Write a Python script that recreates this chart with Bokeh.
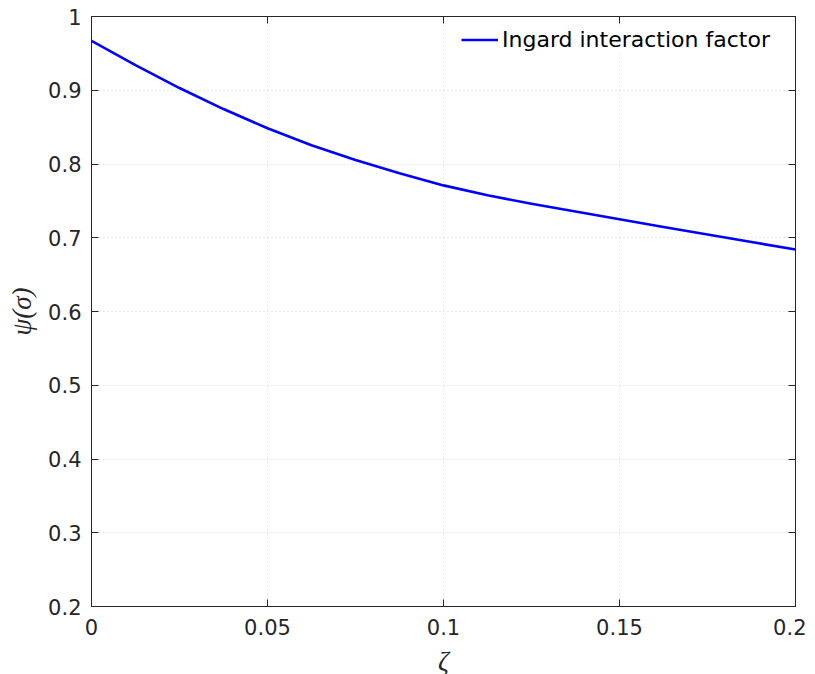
from bokeh.plotting import figure
from bokeh.models import Range1d, LinearAxis, FixedTicker, Legend, LegendItem
from bokeh.embed import file_html
from bokeh.resources import INLINE

# data
zeta = [0.0, 0.0125, 0.025, 0.0375, 0.05, 0.0625, 0.075, 0.0875, 0.1,
        0.1125, 0.125, 0.1375, 0.15, 0.1625, 0.175, 0.1875, 0.2]
psi = [0.967, 0.934, 0.903, 0.8745, 0.8485, 0.8255, 0.8055, 0.7875, 0.771,
       0.7575, 0.746, 0.7355, 0.725, 0.7147, 0.7044, 0.6942, 0.684]
series_name = "Ingard interaction factor"

x_ticks = [0, 0.05, 0.1, 0.15, 0.2]
x_tick_labels = ["0", "0.05", "0.1", "0.15", "0.2"]
y_ticks = [0.2, 0.3, 0.4, 0.5, 0.6, 0.7, 0.8, 0.9, 1.0]
y_tick_labels = ["0.2", "0.3", "0.4", "0.5", "0.6", "0.7", "0.8", "0.9", "1"]

AX = "#262626"
TICK_FONT = "DejaVu Sans"

p = figure(frame_width=704, frame_height=590, output_backend="svg",
           toolbar_location=None, x_range=Range1d(0, 0.2), y_range=Range1d(0.2, 1.0),
           min_border_left=91, min_border_right=11, min_border_top=16, min_border_bottom=66,
           background_fill_color="white", border_fill_color="white")

p.outline_line_color = AX
p.outline_line_width = 1

line = p.line(zeta, psi, line_color="#0000ff", line_width=2.6, line_join="round")

def style_axis(ax, ticks, labels, show_labels=True):
    ax.ticker = FixedTicker(ticks=ticks)
    ax.axis_line_color = AX
    ax.major_tick_line_color = AX
    ax.major_tick_in = 7
    ax.major_tick_out = 0
    ax.minor_tick_line_color = None
    ax.major_label_text_font = TICK_FONT
    ax.major_label_text_color = AX
    if show_labels:
        ax.major_label_overrides = {t: l for t, l in zip(ticks, labels)}
        ax.major_label_text_font_size = "21px"
    else:
        ax.major_label_overrides = {t: "" for t in ticks}
        ax.major_label_text_font_size = "0px"
        ax.major_label_standoff = 0

style_axis(p.xaxis[0], x_ticks, x_tick_labels)
style_axis(p.yaxis[0], y_ticks, y_tick_labels)
p.xaxis[0].major_label_standoff = 12
p.yaxis[0].major_label_standoff = 10

p.xaxis[0].axis_label = "ζ"
p.yaxis[0].axis_label = "ψ(σ)"
for ax in (p.xaxis[0], p.yaxis[0]):
    ax.axis_label_text_font = "Liberation Serif"
    ax.axis_label_text_font_style = "italic"
    ax.axis_label_text_font_size = "27px"
    ax.axis_label_text_color = AX
p.xaxis[0].axis_label_standoff = 8
p.yaxis[0].axis_label_standoff = 8

top = LinearAxis()
right = LinearAxis()
style_axis(top, x_ticks, x_tick_labels, show_labels=False)
style_axis(right, y_ticks, y_tick_labels, show_labels=False)
p.add_layout(top, "above")
p.add_layout(right, "right")

p.xgrid.ticker = FixedTicker(ticks=x_ticks)
p.ygrid.ticker = FixedTicker(ticks=y_ticks)
for g in (p.xgrid, p.ygrid):
    g.grid_line_color = "#d4d4d4"
    g.grid_line_dash = "1 3"
    g.grid_line_width = 1

legend = Legend(items=[LegendItem(label=series_name, renderers=[line])],
                location=(370, 554), margin=0, padding=4,
                border_line_color=None, background_fill_color="white",
                background_fill_alpha=1.0,
                label_text_font=TICK_FONT, label_text_font_size="22px",
                label_text_color="black", glyph_width=37, label_standoff=4,
                label_height=25, glyph_height=25)
p.add_layout(legend, "center")

open("out.html", "w").write(file_html(p, INLINE))
